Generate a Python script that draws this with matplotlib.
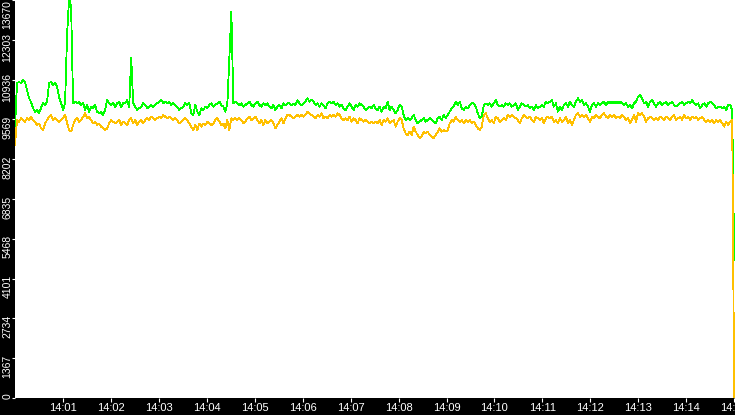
import pandas as pd
import matplotlib
matplotlib.use("Agg")
import matplotlib.pyplot as plt
from matplotlib.transforms import blended_transform_factory, offset_copy

# time range of the capture
start = "2024-01-01 14:00:00"
end = "2024-01-01 14:15:00"

y_ticks = [0, 1367, 2734, 4101, 5468, 6835, 8202, 9569, 10936, 12303, 13670]
x_tick_labels = ["14:01", "14:02", "14:03", "14:04", "14:05", "14:06", "14:07", "14:08",
                 "14:09", "14:10", "14:11", "14:12", "14:13", "14:14", "14:15"]

# green series (upper)
green_vals = [
    9300, 10819, 10853, 10819, 10922, 10853, 10579, 10304, 10166, 9960,
    9823, 9892, 9789, 9960, 10132, 10063, 10166, 10819, 10853, 10750,
    10819, 10682, 10338, 10132, 9892, 10132, 12500, 13700, 13450, 10132,
    10166, 10132, 10166, 10063, 10132, 9892, 10063, 9823, 9995, 9960,
    10063, 9823, 9789, 9823, 9720, 9892, 10235, 10132, 10063, 10132,
    9995, 10132, 10166, 9995, 10132, 10132, 10235, 9995, 11680, 10132,
    9995, 9892, 9960, 9995, 10132, 10063, 9960, 9995, 10063, 9995,
    10063, 10132, 10166, 10235, 10132, 10166, 10132, 10166, 10063, 10132,
    10063, 9995, 9892, 9960, 9995, 10132, 10063, 10132, 9789, 9720,
    10063, 9835, 9720, 9950, 9892, 10007, 9950, 10063, 10120, 10007,
    10063, 10120, 10178, 10063, 10007, 9835, 10120, 11680, 13270, 10120,
    10178, 10120, 10063, 10120, 10007, 10063, 10120, 10178, 10063, 10007,
    10120, 10178, 10063, 10007, 10120, 10063, 10120, 10007, 9950, 10063,
    9892, 10007, 10063, 9950, 10120, 10063, 10120, 10120, 10063, 10120,
    10063, 10235, 10120, 10063, 10120, 10178, 10294, 10178, 10235, 10178,
    10063, 10120, 10007, 10120, 10063, 9950, 10120, 10178, 10120, 10178,
    10063, 10120, 10007, 10063, 9950, 9892, 10007, 10120, 10007, 9892,
    10063, 10007, 10120, 10063, 10007, 9892, 9950, 10007, 9950, 10063,
    9950, 9892, 10007, 9835, 10007, 9950, 10178, 9892, 10007, 9892,
    9780, 9892, 10063, 10007, 9720, 9548, 9610, 9548, 9610, 9720,
    9548, 9430, 9490, 9548, 9610, 9490, 9548, 9610, 9548, 9490,
    9430, 9610, 9660, 9548, 9720, 9610, 9720, 9835, 9950, 10007,
    10178, 10063, 10178, 9950, 9892, 10007, 9950, 10063, 10120, 10120,
    10007, 9780, 9610, 9660, 10063, 10120, 10063, 10120, 10007, 10120,
    10235, 10063, 10007, 10063, 10007, 10120, 10063, 10120, 10007, 10063,
    10120, 9892, 10007, 10120, 10063, 10007, 10063, 9950, 10007, 9892,
    10063, 9950, 10007, 10063, 10007, 10178, 10120, 10178, 10235, 10007,
    10120, 9835, 10007, 9892, 10063, 10120, 10007, 10178, 10063, 10007,
    10178, 10294, 10178, 10235, 10063, 10120, 10007, 9835, 10063, 10120,
    10007, 10120, 10063, 10120, 10178, 10063, 10178, 10120, 10178, 10120,
    10178, 10120, 10178, 10120, 10063, 10120, 10007, 10063, 9950, 10120,
    10178, 10350, 10407, 10294, 10120, 10178, 10007, 10178, 10235, 10120,
    10007, 10120, 10178, 10063, 10120, 10178, 10063, 10120, 10178, 10063,
    10007, 10063, 10120, 10178, 10063, 10120, 10178, 10120, 10235, 10120,
    10063, 10120, 9950, 10063, 10120, 10007, 10120, 10178, 10120, 10063,
    9950, 10007, 10007, 9950, 10007, 9892, 10063, 10063, 9892, 4750,
]

# yellow series (lower)
yellow_vals = [
    8700, 9548, 9490, 9610, 9548, 9490, 9610, 9548, 9660, 9548,
    9490, 9376, 9430, 9260, 9205, 9430, 9548, 9660, 9720, 9548,
    9610, 9548, 9490, 9548, 9610, 9720, 9445, 9205, 9150, 9376,
    9548, 9610, 9490, 9548, 9660, 9780, 9610, 9660, 9548, 9430,
    9490, 9376, 9430, 9320, 9260, 9205, 9260, 9430, 9548, 9490,
    9430, 9490, 9548, 9376, 9490, 9430, 9376, 9548, 9610, 9430,
    9548, 9376, 9490, 9548, 9430, 9548, 9610, 9548, 9660, 9610,
    9548, 9610, 9660, 9610, 9720, 9660, 9610, 9660, 9610, 9548,
    9610, 9548, 9430, 9490, 9548, 9610, 9548, 9430, 9320, 9205,
    9376, 9205, 9430, 9320, 9430, 9376, 9490, 9430, 9376, 9430,
    9548, 9610, 9490, 9376, 9430, 9260, 9548, 9205, 9610, 9548,
    9610, 9548, 9610, 9548, 9430, 9490, 9610, 9660, 9548, 9610,
    9660, 9548, 9430, 9548, 9376, 9548, 9430, 9490, 9548, 9430,
    9260, 9376, 9490, 9610, 9430, 9610, 9720, 9720, 9660, 9610,
    9660, 9720, 9660, 9720, 9660, 9720, 9835, 9780, 9720, 9660,
    9610, 9720, 9660, 9780, 9610, 9660, 9610, 9720, 9660, 9720,
    9660, 9780, 9720, 9610, 9548, 9610, 9548, 9660, 9490, 9610,
    9548, 9430, 9610, 9548, 9490, 9548, 9490, 9430, 9490, 9430,
    9490, 9430, 9548, 9376, 9548, 9490, 9610, 9430, 9490, 9548,
    9320, 9490, 9610, 9548, 9260, 9090, 9033, 9150, 9033, 9320,
    9150, 9033, 8920, 8975, 9150, 9090, 9150, 9033, 8975, 8920,
    9033, 9150, 9260, 9150, 9205, 9150, 9205, 9430, 9548, 9490,
    9660, 9548, 9490, 9548, 9430, 9548, 9490, 9548, 9430, 9490,
    9376, 9260, 9205, 9320, 9720, 9780, 9610, 9490, 9548, 9430,
    9660, 9610, 9490, 9548, 9610, 9548, 9720, 9660, 9720, 9660,
    9610, 9548, 9430, 9610, 9720, 9660, 9610, 9660, 9548, 9490,
    9660, 9610, 9548, 9610, 9430, 9610, 9660, 9610, 9660, 9490,
    9548, 9430, 9610, 9490, 9548, 9660, 9430, 9548, 9376, 9548,
    9720, 9780, 9660, 9720, 9660, 9720, 9610, 9490, 9660, 9610,
    9720, 9660, 9610, 9720, 9780, 9660, 9610, 9720, 9660, 9720,
    9610, 9660, 9610, 9720, 9660, 9548, 9610, 9430, 9548, 9720,
    9490, 9780, 9720, 9780, 9660, 9490, 9610, 9660, 9610, 9548,
    9610, 9548, 9660, 9610, 9548, 9660, 9610, 9548, 9660, 9720,
    9548, 9610, 9660, 9548, 9720, 9610, 9660, 9548, 9660, 9610,
    9660, 9548, 9610, 9660, 9548, 9490, 9548, 9490, 9548, 9430,
    9548, 9490, 9548, 9430, 9320, 9490, 9376, 9490, 9548, 0,
]

times = pd.date_range(start, end, periods=len(green_vals))

W, H = 735, 415
fig = plt.figure(figsize=(W / 100, H / 100), dpi=100, facecolor="black")
ax = fig.add_axes([15 / W, 17 / H, 720 / W, 398 / H])
ax.set_facecolor("white")

ax.plot(times, green_vals, color="#00ff00", lw=0.6, antialiased=False)
ax.plot(times, yellow_vals, color="#ffc000", lw=0.6, antialiased=False)

ax.set_xlim(pd.Timestamp(start), pd.Timestamp("2024-01-01 14:15:01"))
ax.set_ylim(0, 13670)
for s in ax.spines.values():
    s.set_visible(False)

font = ["Liberation Sans Narrow", "Liberation Sans", "DejaVu Sans"]

xt = pd.date_range("2024-01-01 14:01:00", periods=len(x_tick_labels), freq="1min")
ax.set_xticks(xt)
ax.set_xticklabels(x_tick_labels, family=font, fontsize=8, color="white")
ax.tick_params(axis="x", colors="white", length=3, width=0.8, pad=0.5)

ax.set_yticks(y_ticks)
ax.set_yticklabels([])
ax.tick_params(axis="y", colors="white", length=2.2, width=0.8)

# y labels sit a little below their ticks, rotated
trans = blended_transform_factory(fig.transFigure, ax.transData)
for v in y_ticks:
    if v == y_ticks[-1]:
        t = offset_copy(trans, fig=fig, x=0, y=0, units="dots")
        va = "top"
    elif v == 0:
        t = offset_copy(trans, fig=fig, x=0, y=2, units="dots")
        va = "center"
    else:
        t = offset_copy(trans, fig=fig, x=0, y=-8, units="dots")
        va = "center"
    fig.text(7.5 / W, v, str(v), transform=t, rotation=90, ha="center", va=va,
             color="white", family=font, fontsize=7.5)

fig.savefig("out.png", dpi=100, facecolor="black")
